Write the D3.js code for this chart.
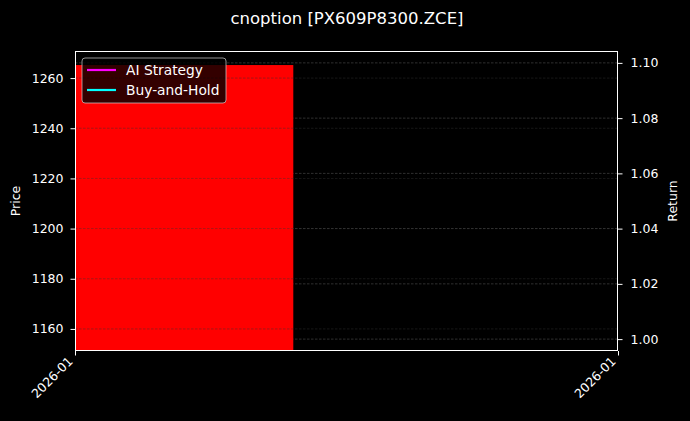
<!DOCTYPE html>
<html>
<head>
<meta charset="utf-8">
<script src="https://cdn.jsdelivr.net/npm/d3@7"></script>
<style>
  body { margin: 0; background: #000; }
  text { font-family: "DejaVu Sans", sans-serif; fill: #fff; }
</style>
</head>
<body>
<div class="canvas"></div>
<script>
// data
const dates = ['2026-01-05'];
const openPrice = [1265.2];
const closePrice = [1148];
const strategyReturn = [1.0];
const holdReturn = [1.0];
const priceTicks = [1160, 1180, 1200, 1220, 1240, 1260];
const returnTicks = [1.00, 1.02, 1.04, 1.06, 1.08, 1.10];

const W = 690, H = 421;
const margin = { top: 51, right: 72, bottom: 70, left: 75 };
const graphWidth = W - margin.left - margin.right;
const graphHeight = H - margin.top - margin.bottom;

const svg = d3.select('.canvas')
    .append('svg')
    .attr('width', W)
    .attr('height', H)

svg.append('rect').attr('width', W).attr('height', H).attr('fill', '#000');

const graph = svg.append('g')
    .attr('transform', `translate(${margin.left}, ${margin.top})`)

graph.append('clipPath').attr('id', 'clip')
    .append('rect').attr('width', graphWidth).attr('height', graphHeight);

const parse = d3.timeParse('%Y-%m-%d');
const day = 24 * 3600 * 1000;
const d0 = parse(dates[0]);

// scales
const x = d3.scaleTime()
    .domain([new Date(+d0 - 0.4 * day), new Date(+d0 + 1.59 * day)])
    .range([0, graphWidth]);
const y = d3.scaleLinear().domain([1151.2, 1270.8]).range([graphHeight, 0]);
const y2 = d3.scaleLinear().domain([0.9957, 1.1043]).range([graphHeight, 0]);

const gridStyle = sel => sel
    .attr('stroke', '#555')
    .attr('stroke-width', 0.8)
    .attr('stroke-dasharray', '2.5,1.5')
    .attr('opacity', 0.7);

// right axis grid (under the candle)
graph.append('g').selectAll('line').data(returnTicks).enter().append('line')
    .attr('x1', 0).attr('x2', graphWidth)
    .attr('y1', d => y2(d)).attr('y2', d => y2(d))
    .call(gridStyle);

// candle
const candles = dates.map((d, i) => ({ date: parse(d), open: openPrice[i], close: closePrice[i] }));
graph.append('g').attr('clip-path', 'url(#clip)')
    .selectAll('rect').data(candles).enter().append('rect')
    .attr('x', d => x(new Date(+d.date - 0.4 * day)))
    .attr('width', d => x(new Date(+d.date + 0.4 * day)) - x(new Date(+d.date - 0.4 * day)))
    .attr('y', d => y(Math.max(d.open, d.close)))
    .attr('height', d => Math.abs(y(d.open) - y(d.close)))
    .attr('fill', d => d.close < d.open ? '#ff0000' : '#00ff00');

// left axis grid (over the candle)
graph.append('g').selectAll('line').data(priceTicks).enter().append('line')
    .attr('x1', 0).attr('x2', graphWidth)
    .attr('y1', d => y(d)).attr('y2', d => y(d))
    .attr('stroke', '#000')
    .attr('stroke-opacity', 0.25)
    .attr('stroke-width', 0.8)
    .attr('stroke-dasharray', '2.5,1.5');
graph.append('g').selectAll('line').data(priceTicks).enter().append('line')
    .attr('x1', 0).attr('x2', graphWidth)
    .attr('y1', d => y(d)).attr('y2', d => y(d))
    .call(gridStyle).attr('opacity', 0.35);

// return lines
const line = d3.line()
    .x((d, i) => x(parse(dates[i])))
    .y(d => y2(d));
graph.append('path').datum(strategyReturn)
    .attr('fill', 'none').attr('stroke', '#ff00ff').attr('stroke-width', 2).attr('d', line);
graph.append('path').datum(holdReturn)
    .attr('fill', 'none').attr('stroke', '#00ffff').attr('stroke-width', 2).attr('d', line);

// axes
const styleAxis = g => {
    g.select('.domain').remove();
    g.selectAll('line').attr('stroke', '#fff').attr('stroke-width', 1);
    g.selectAll('text').style('font-size', '12.5px').attr('fill', '#fff');
};

graph.append('g')
    .call(d3.axisLeft(y).tickValues(priceTicks).tickSize(4.5).tickPadding(7).tickFormat(d3.format('d')))
    .call(styleAxis);

graph.append('g')
    .attr('transform', `translate(${graphWidth}, 0)`)
    .call(d3.axisRight(y2).tickValues(returnTicks).tickSize(4.5).tickPadding(8).tickFormat(d3.format('.2f')))
    .call(styleAxis);

const xAxisGroup = graph.append('g')
    .attr('transform', `translate(0, ${graphHeight})`)
    .call(d3.axisBottom(x).tickValues(x.domain()).tickSize(4.5).tickFormat(d3.timeFormat('%Y-%m')))
    .call(styleAxis);
xAxisGroup.selectAll('text')
    .attr('text-anchor', 'end')
    .attr('dy', '0.35em')
    .attr('transform', 'translate(-5, 8) rotate(-45)')
    .attr('y', 0).attr('x', 0);

// frame
graph.append('rect')
    .attr('x', 0.5).attr('y', 0.5)
    .attr('width', graphWidth - 1).attr('height', graphHeight - 1)
    .attr('fill', 'none').attr('stroke', '#fff').attr('stroke-width', 1)
    .attr('shape-rendering', 'crispEdges');

// labels
svg.append('text')
    .attr('x', 347).attr('y', 24)
    .attr('text-anchor', 'middle')
    .style('font-size', '16.5px')
    .text('cnoption [PX609P8300.ZCE]');

svg.append('text')
    .attr('transform', `translate(20, ${margin.top + graphHeight / 2}) rotate(-90)`)
    .attr('text-anchor', 'middle')
    .style('font-size', '12.5px')
    .text('Price');

svg.append('text')
    .attr('transform', `translate(677, ${margin.top + graphHeight / 2}) rotate(-90)`)
    .attr('text-anchor', 'middle')
    .style('font-size', '12.5px')
    .text('Return');

// legend
const legend = graph.append('g').attr('transform', 'translate(7, 7)');
legend.append('rect')
    .attr('width', 144).attr('height', 45).attr('rx', 3)
    .attr('fill', '#000').attr('fill-opacity', 0.8)
    .attr('stroke', '#ccc').attr('stroke-opacity', 0.9).attr('stroke-width', 0.8);
const items = [{ name: 'AI Strategy', color: '#ff00ff' }, { name: 'Buy-and-Hold', color: '#00ffff' }];
items.forEach((item, i) => {
    const gy = 12 + i * 20;
    legend.append('line')
        .attr('x1', 5).attr('x2', 34).attr('y1', gy).attr('y2', gy)
        .attr('stroke', item.color).attr('stroke-width', 2.2);
    legend.append('text')
        .attr('x', 44).attr('y', gy).attr('dy', '0.35em')
        .style('font-size', '13.8px')
        .text(item.name);
});
</script>
</body>
</html>
